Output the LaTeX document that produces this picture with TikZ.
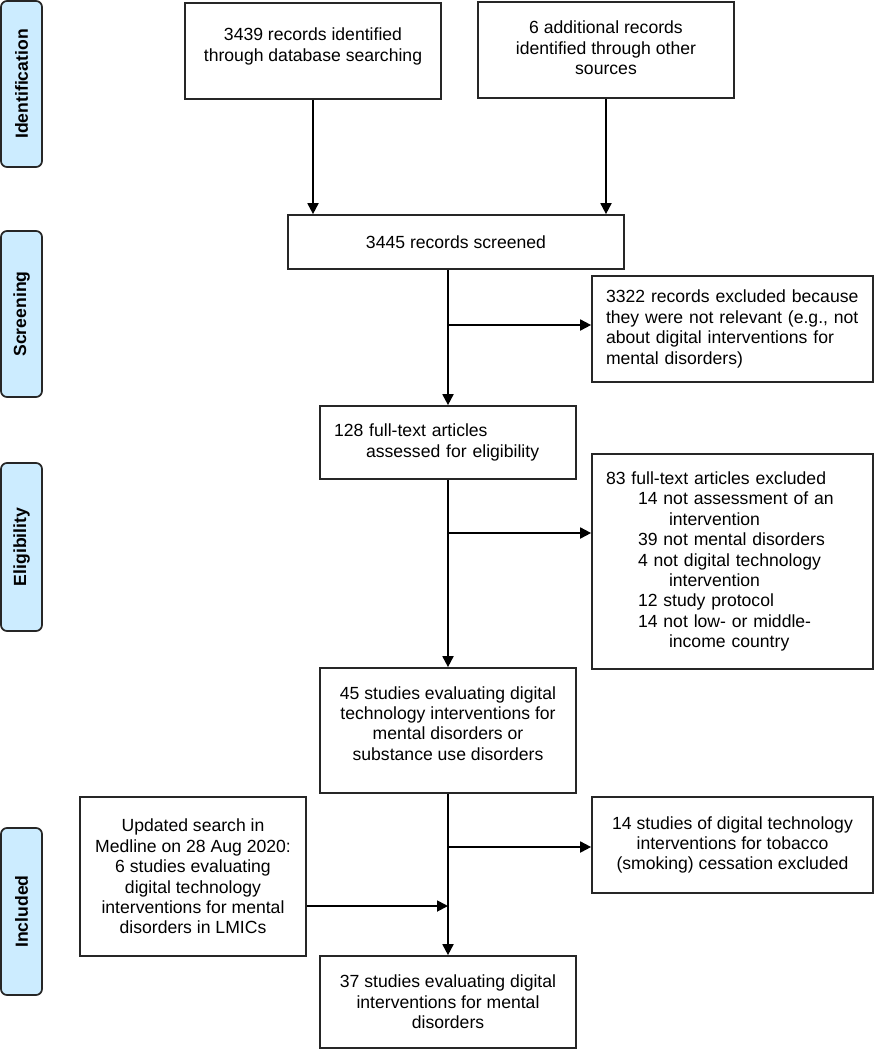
\documentclass[tikz,border=0pt]{standalone}
\usepackage{fontspec}
\setmainfont{Liberation Sans}
\usetikzlibrary{arrows.meta}
\definecolor{phaseblue}{RGB}{204,236,255}
\tikzset{
  flowbox/.style={draw=black!85, line width=1.7pt, rectangle, minimum width=256pt, align=center, inner sep=0pt, font=\fontsize{17.6}{20.4}\selectfont},
  sidelabel/.style={draw=black!85, line width=1.7pt, rounded corners=6pt, fill=phaseblue, minimum width=166pt, minimum height=41pt, inner sep=0pt, rotate=90, font=\bfseries\fontsize{17.6}{20.4}\selectfont},
  flowarrow/.style={line width=1.8pt, -{Triangle[length=11pt,width=11pt]}}
}

\begin{document}
\begin{tikzpicture}[x=1pt,y=-1pt]
			%%%%% START %%%%%
			\useasboundingbox (0,0) rectangle (874,1050);
			
			% phases
			\node[sidelabel] (ident) at (21.5,84) {Identification};
			\node[sidelabel] (screen) at (21.5,314) {Screening};
			\node[sidelabel, minimum width=168pt] (elig) at (21.5,547) {Eligibility};
			\node[sidelabel, minimum width=167pt] (incl) at (21.5,911.5) {Included};
			
			% identification
			\node[flowbox, minimum height=96pt] (dbsearch) at (313,51) {3439 records identified\\through database searching\\[-8pt]~};
			\node[flowbox, minimum height=96pt] (othersrc) at (606,50) {6 additional records\\identified through other\\sources\\[-16pt]~};
			
			% screening
			\node[flowbox, minimum width=336pt, minimum height=54pt] (screened) at (456,242) {3445 records screened};
			\node[flowbox, minimum width=281pt, minimum height=106pt, text width=253pt, align=left] (notrel) at (732.5,329) {3322 records excluded because\\they were not relevant (e.g., not\\about digital interventions for\\mental disorders)};
			
			% eligibility
			\node[flowbox, minimum height=73pt, text width=228pt, align=left] (fulltext) at (448,442.5) {128 full-text articles\\\hspace*{32pt}assessed for eligibility};
			\node[flowbox, minimum width=281pt, minimum height=215pt, text width=253pt, align=left] (ftexcl) at (732.5,561.5) {83 full-text articles excluded\\
				\hspace*{32pt}14 not assessment of an\\
				\hspace*{63pt}intervention\\
				\hspace*{32pt}39 not mental disorders\\
				\hspace*{32pt}4 not digital technology\\
				\hspace*{63pt}intervention\\
				\hspace*{32pt}12 study protocol\\
				\hspace*{32pt}14 not low- or middle-\\
				\hspace*{63pt}income country};
			
			% included
			\node[flowbox, minimum height=125pt] (studies) at (448,730.5) {45 studies evaluating digital\\technology interventions for\\mental disorders or\\substance use disorders\\[-6pt]~};
			\node[flowbox, minimum width=281pt, minimum height=96pt] (tobacco) at (732.5,845) {14 studies of digital technology\\interventions for tobacco\\(smoking) cessation excluded};
			\node[flowbox, minimum width=226pt, minimum height=159pt] (update) at (193,876.5) {Updated search in\\Medline on 28 Aug 2020:\\6 studies evaluating\\digital technology\\interventions for mental\\disorders in LMICs};
			\node[flowbox, minimum height=92pt] (final) at (448,1002) {37 studies evaluating digital\\interventions for mental\\disorders};
			
			% arrows
			\draw[flowarrow] (dbsearch.south) -- (dbsearch.south |- screened.north);
			\draw[flowarrow] (othersrc.south) -- (othersrc.south |- screened.north);
			\draw[flowarrow] (fulltext.north |- screened.south) -- (fulltext.north);
			\coordinate (split1) at (448,325);
			\draw[flowarrow] (split1) -- (split1 -| notrel.west);
			
			\draw[flowarrow] (fulltext.south) -- (studies.north);
			\coordinate (split2) at (448,533);
			\draw[flowarrow] (split2) -- (split2 -| ftexcl.west);
			
			\draw[flowarrow] (studies.south) -- (final.north);
			\coordinate (split3) at (448,847);
			\draw[flowarrow] (split3) -- (split3 -| tobacco.west);
			\coordinate (merge) at (448,906);
			\draw[flowarrow] (merge -| update.east) -- (merge);
			
			%%%%% END %%%%%
\end{tikzpicture}
\end{document}
